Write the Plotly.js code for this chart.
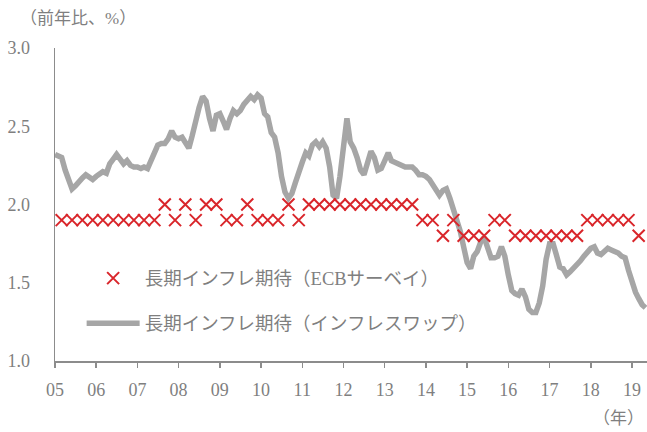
<!DOCTYPE html>
<html><head><meta charset="utf-8">
<script src="https://cdn.plot.ly/plotly-3.0.1.min.js"></script>
<style>body{margin:0;background:#fff}#chart{width:647px;height:432px}</style>
</head><body><div id="chart"></div>
<script>
// Inflation swap (monthly, starting Jan 2005)
const swapStartYear = 2005;
const swapStartMonth = 1;
const swapValues = [
  2.32,2.31,2.30,2.22,2.17,2.10,2.12,2.15,2.17,2.19,2.17,2.16,
  2.18,2.20,2.21,2.20,2.26,2.29,2.32,2.29,2.26,2.28,2.25,2.24,
  2.24,2.23,2.24,2.23,2.28,2.35,2.38,2.39,2.39,2.42,2.47,2.43,
  2.42,2.43,2.40,2.36,2.44,2.54,2.62,2.69,2.66,2.55,2.47,2.57,
  2.58,2.53,2.48,2.55,2.60,2.58,2.60,2.64,2.66,2.69,2.67,2.70,
  2.68,2.58,2.56,2.46,2.43,2.33,2.18,2.08,2.04,2.07,2.14,2.22,
  2.27,2.33,2.31,2.38,2.40,2.37,2.40,2.36,2.24,2.06,2.04,2.18,
  2.36,2.55,2.40,2.36,2.30,2.22,2.19,2.27,2.34,2.30,2.22,2.23,
  2.29,2.33,2.28,2.27,2.26,2.25,2.24,2.24,2.24,2.22,2.19,2.19,
  2.18,2.16,2.13,2.09,2.06,2.09,2.10,2.04,1.97,1.88,1.83,1.73,
  1.63,1.59,1.67,1.70,1.76,1.79,1.71,1.66,1.66,1.67,1.73,1.67,
  1.55,1.45,1.43,1.42,1.46,1.41,1.33,1.31,1.31,1.37,1.48,1.65,
  1.75,1.75,1.68,1.60,1.59,1.55,1.57,1.59,1.61,1.64,1.67,1.70,
  1.72,1.73,1.69,1.68,1.70,1.72,1.71,1.70,1.69,1.67,1.66,1.58,
  1.50,1.44,1.40,1.36,1.34
];
// ECB Survey of Professional Forecasters (quarterly, starting Mar 2005)
const ecbStartYear = 2005;
const ecbStartMonth = 3;
const ecbValues = [
  1.9,1.9,1.9,1.9,1.9,1.9,1.9,1.9,1.9,1.9,
  2.0,1.9,2.0,1.9,2.0,2.0,1.9,1.9,2.0,1.9,1.9,1.9,2.0,1.9,
  2.0,2.0,2.0,2.0,2.0,2.0,2.0,2.0,2.0,2.0,2.0,
  1.9,1.9,1.8,1.9,1.8,1.8,1.8,1.9,1.9,
  1.8,1.8,1.8,1.8,1.8,1.8,1.8,
  1.9,1.9,1.9,1.9,1.9,1.8
];
const xTickYears = [2005,2006,2007,2008,2009,2010,2011,2012,2013,2014,2015,2016,2017,2018,2019];
const xTickLabels = ['05','06','07','08','09','10','11','12','13','14','15','16','17','18','19'];
const yTickValues = [1.0,1.5,2.0,2.5,3.0];
const yTickLabels = ['1.0','1.5','2.0','2.5','3.0'];
const seriesNames = ['長期インフレ期待（ECBサーベイ）','長期インフレ期待（インフレスワップ）'];

function monthDates(y0, m0, n, step){
  const out = [];
  for(let i=0;i<n;i++){
    const t = (m0-1) + i*step;
    const y = y0 + Math.floor(t/12);
    const m = t%12 + 1;
    out.push(y + '-' + String(m).padStart(2,'0') + '-01');
  }
  return out;
}
const swapDates = monthDates(swapStartYear, swapStartMonth, swapValues.length, 1);
const ecbDates = monthDates(ecbStartYear, ecbStartMonth, ecbValues.length, 3);

const FONT = '"Liberation Serif", "Noto Sans CJK JP", serif';
const GREY = '#7f7f7f';

const traces = [
  {
    x: swapDates, y: swapValues, type: 'scatter', mode: 'lines',
    name: seriesNames[1], legendrank: 2, legendgroup: 'b',
    line: {color: '#a6a6a6', width: 5.5}
  },
  {
    x: ecbDates, y: ecbValues, type: 'scatter', mode: 'markers',
    name: seriesNames[0], legendrank: 1, legendgroup: 'a',
    marker: {symbol: 'x-thin-open', size: 12, color: '#d9262b', line: {width: 2, color: '#d9262b'}}
  }
];

const layout = {
  width: 647, height: 432,
  margin: {l: 55, r: 0, t: 48, b: 71},
  paper_bgcolor: '#fff', plot_bgcolor: '#fff',
  font: {family: FONT, color: GREY, size: 17},
  showlegend: true,
  legend: {
    x: 0.045, y: 0.324, xanchor: 'left', yanchor: 'top',
    traceorder: 'grouped', tracegroupgap: 18,
    itemwidth: 53,
    bgcolor: 'rgba(0,0,0,0)',
    font: {family: FONT, color: GREY, size: 18.5}
  },
  xaxis: {
    type: 'date',
    range: ['2005-01-01', '2019-05-14'],
    tickvals: xTickYears.map(y => y + '-01-01'),
    ticktext: xTickLabels,
    ticks: 'outside', ticklen: 5, tickwidth: 1.5, tickcolor: '#8c8c8c',
    showline: true, linecolor: '#8c8c8c', linewidth: 1.5,
    showgrid: false, zeroline: false,
    ticklabelstandoff: 7,
    tickfont: {family: FONT, color: GREY, size: 18}
  },
  yaxis: {
    range: [1.0, 3.0],
    tickvals: yTickValues, ticktext: yTickLabels,
    ticks: '',
    showline: true, linecolor: '#8c8c8c', linewidth: 1.5,
    showgrid: false, zeroline: false,
    ticklabelstandoff: 20,
    tickfont: {family: FONT, color: GREY, size: 18}
  },
  annotations: [
    {text: '（前年比、%）', xref: 'paper', yref: 'paper', x: -0.063, y: 1.0, yshift: 30,
     xanchor: 'left', yanchor: 'middle', showarrow: false,
     font: {family: FONT, color: GREY, size: 17}},
    {text: '（年）', xref: 'paper', yref: 'paper', x: 0.998, y: 0, yshift: -57,
     xanchor: 'right', yanchor: 'middle', showarrow: false,
     font: {family: FONT, color: GREY, size: 17}}
  ]
};

Plotly.newPlot('chart', traces, layout, {displayModeBar: false, staticPlot: true});
</script>
</body></html>
